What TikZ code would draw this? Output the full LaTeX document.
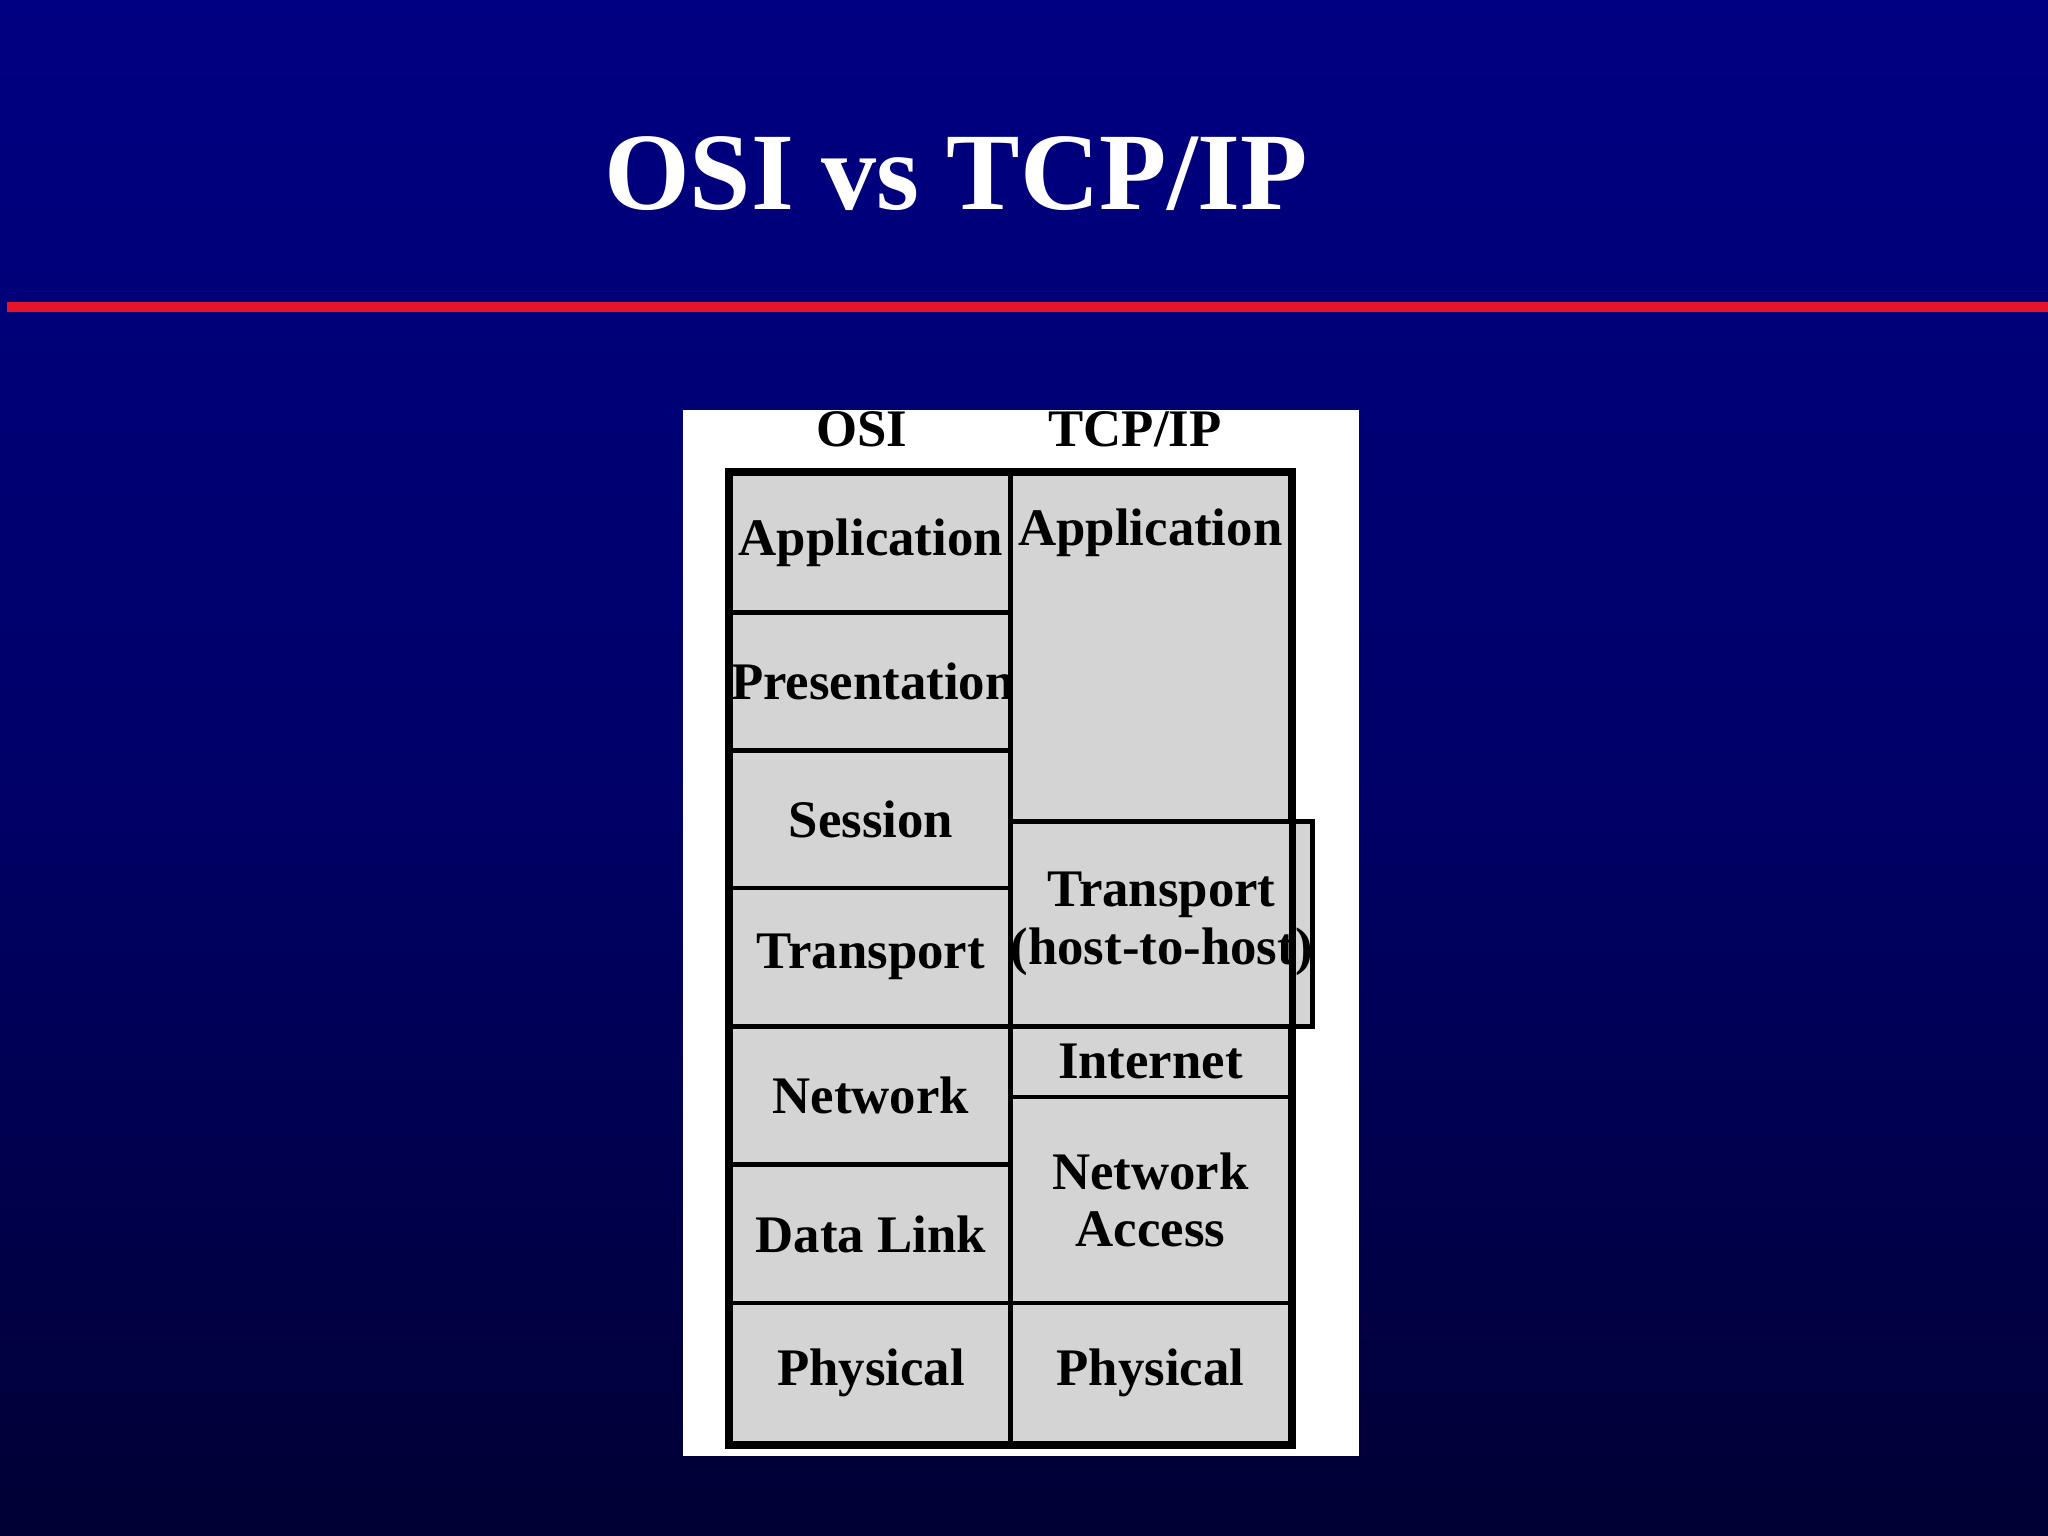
\documentclass[tikz,border=0pt]{standalone}
\usepackage{fontspec}
\setmainfont{Liberation Serif}
\begin{document}
\begin{tikzpicture}[
  cell/.style={draw=black,line width=1pt,fill={rgb,255:red,212;green,212;blue,212},anchor=north west,minimum width=2.14cm,inner sep=0pt,align=center,font=\fontsize{11.5}{12.5}\selectfont\bfseries},
  hdr/.style={font=\fontsize{11.5}{12.5}\selectfont\bfseries,text=black}]
\useasboundingbox (0,0) rectangle (15.68,-11.76);
\shade[top color={rgb,255:red,0;green,0;blue,130},bottom color={rgb,255:red,0;green,0;blue,52},middle color={rgb,255:red,0;green,0;blue,105}] (0,0) rectangle (15.68,-11.76);
\node[text=white,font=\fontsize{24}{28}\selectfont\bfseries] (title) at (7.32,-1.33) {OSI vs TCP/IP};
\coordinate (rl) at (0.05,-2.35); \coordinate (rr) at (15.68,-2.35);
\draw[line width=2pt,color={rgb,255:red,230;green,20;blue,40}] (rl) -- (rr);
\node[fill=white,anchor=north west,minimum width=5.18cm,minimum height=8.01cm,inner sep=0pt] (panel) at (5.22,-3.13) {};
\node[hdr] (h1) at (6.60,-3.29) {OSI};
\node[hdr] (h2) at (8.69,-3.29) {TCP/IP};
\node[cell,minimum height=1.06cm] (o1) at (5.58,-3.61) {Application};
\node[cell,minimum height=1.06cm] (o2) at (5.58,-4.67) {Presentation};
\node[cell,minimum height=1.05cm] (o3) at (5.58,-5.73) {Session};
\node[cell,minimum height=1.06cm] (o4) at (5.58,-6.78) {Transport};
\node[cell,minimum height=1.06cm] (o5) at (5.58,-7.84) {Network};
\node[cell,minimum height=1.06cm] (o6) at (5.58,-8.90) {Data Link};
\node[cell,minimum height=1.07cm] (o7) at (5.58,-9.96) {Physical};
\node[cell,minimum height=2.66cm] (t1) at (7.72,-3.61) {Application\\[1.4cm]};
\node[cell,minimum height=1.57cm] (t2) at (7.72,-6.27) {Transport\\(host-to-host)};
\node[cell,minimum height=0.54cm] (t3) at (7.72,-7.84) {Internet};
\node[cell,minimum height=1.58cm] (t4) at (7.72,-8.38) {Network\\Access};
\node[cell,minimum height=1.07cm] (t5) at (7.72,-9.96) {Physical};
\draw[line width=1.5pt] (o1.north west) rectangle (t5.south east);
\end{tikzpicture}
\end{document}
